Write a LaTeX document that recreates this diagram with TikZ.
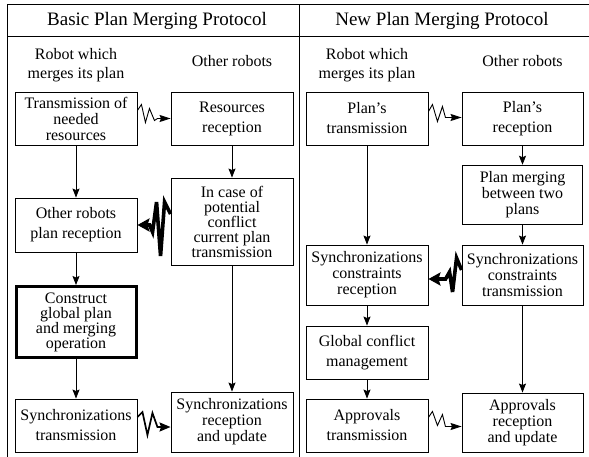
\documentclass[tikz,border=0pt]{standalone}
\usepackage{fontspec}
\setmainfont{Liberation Serif}
\usetikzlibrary{arrows.meta,calc}
\begin{document}
\begin{tikzpicture}[x=1pt,y=-1pt,
  box/.style={draw, line width=0.9pt, minimum width=122pt, inner sep=0pt, align=center},
  ftwo/.style={font=\fontsize{16}{20}\selectfont},
  fthree/.style={font=\fontsize{16}{16}\selectfont},
  fmany/.style={font=\fontsize{16}{15}\selectfont},
  head/.style={inner sep=0pt, align=center, font=\fontsize{16}{19}\selectfont},
  ttl/.style={inner sep=0pt, font=\fontsize{19}{22}\selectfont},
  varr/.style={line width=0.8pt, -{Stealth[length=9pt,width=7pt,inset=1.5pt]}},
  zzthin/.style={line width=0.9pt, line join=miter, -{Stealth[length=11pt,width=7pt,inset=1.5pt]}},
  zzmed/.style={line width=1.7pt, line join=miter, -{Stealth[length=11pt,width=9pt,inset=1.5pt]}},
  zzthick/.style={line width=3.6pt, line join=miter, miter limit=6, -{Stealth[length=12pt,width=13pt,inset=2pt]}},
  frame/.style={line width=1pt}
]
\useasboundingbox (0,0) rectangle (589,457);
% frame
\draw[frame] (7,457) -- (7,5) -- (589,5);
\draw[frame] (7,37) -- (589,37);
\draw[frame] (299,5) -- (299,457);

% titles and headers
\node[ttl, anchor=base] (t1) at (157,26) {Basic Plan Merging Protocol};
\node[ttl, anchor=base] (t2) at (442,26) {New Plan Merging Protocol};
\node[head] (h1) at (76,65.6) {Robot which\\merges its plan};
\node[head, anchor=base] (h2) at (232,67) {Other robots};
\node[head] (h3) at (367,65.6) {Robot which\\merges its plan};
\node[head, anchor=base] (h4) at (522.5,67) {Other robots};

% left protocol
\node[box, fthree, minimum height=53pt] (A) at (76,118.5) {Transmission of\\needed\\resources};
\node[box, ftwo, minimum height=53pt] (B) at (232,118.5) {Resources\\reception};
\node[box, fmany, minimum height=87pt] (C) at (232,221.5) {In case of\\potential\\conflict\\current plan\\transmission};
\node[box, ftwo, minimum height=54pt] (D) at (76,225) {Other robots\\plan reception};
\node[box, fmany, line width=3pt, minimum width=120pt, minimum height=71pt] (E) at (76,322) {Construct\\global plan\\and merging\\operation};
\node[box, ftwo, minimum height=53pt] (F) at (76,425.5) {Synchronizations\\transmission};
\node[box, fthree, minimum height=60pt] (G) at (232,422) {Synchronizations\\reception\\and update};

% right protocol
\node[box, ftwo, minimum height=53pt] (H) at (367,118.5) {Plan’s\\transmission};
\node[box, ftwo, minimum width=121pt, minimum height=53pt] (I) at (522.5,118.5) {Plan’s\\reception};
\node[box, fthree, line width=1.5pt, minimum width=120pt, minimum height=59pt] (J) at (522.5,195) {Plan merging\\between two\\plans};
\node[box, fthree, minimum height=60pt] (K) at (367,275) {Synchronizations\\constraints\\reception};
\node[box, fthree, minimum width=121pt, minimum height=60pt] (L) at (522.5,275) {Synchronizations\\constraints\\transmission};
\node[box, ftwo, minimum height=53pt] (M) at (367,352.5) {Global conflict\\management};
\node[box, ftwo, minimum height=53pt] (N) at (367,425.5) {Approvals\\transmission};
\node[box, fthree, minimum width=121pt, minimum height=59pt] (O) at (522.5,422.5) {Approvals\\reception\\and update};

% vertical arrows
\draw[varr] (A) -- (D);
\draw[varr] (D) -- (E);
\draw[varr] (E) -- (F);
\draw[varr] (B) -- (C);
\draw[varr] (C) -- (G);
\draw[varr] (H) -- (K);
\draw[varr] (I) -- (J);
\draw[varr] (J) -- (L);
\draw[varr] (K) -- (M);
\draw[varr] (M) -- (N);
\draw[varr] (L) -- (O);

% zigzag messages
\draw[zzthin] ($(A.east)+(0,-8)$) -- ++(4,-6) -- ++(4,18) -- ++(4,-14) -- ++(5,12) -- ++(3,-2) coordinate (z1) -- (z1 -| B.west);
\draw[zzthin] ($(H.east)+(0,-7)$) -- ++(4,-7) -- ++(5,17) -- ++(5,-15) -- ++(3,11) -- ++(2,0) coordinate (z2) -- (z2 -| I.west);
\draw[zzmed] ($(F.east)+(0,-8.5)$) -- ++(5,-5) -- ++(5,23) -- ++(5,-22) -- ++(5,14) coordinate (z3) -- (z3 -| G.west);
\draw[zzthin] ($(N.east)+(0,-8)$) -- ++(4,-6) -- ++(5,14) -- ++(5,-11) -- ++(3,12) coordinate (z4) -- (z4 -| O.west);
\draw[zzthick] ($(C.west)+(0,-7.5)$) -- ++(-6,-12) -- ++(-4,54) -- ++(-4,-54) -- ++(-4,30) -- ++(-3,-7) coordinate (z5) -- (z5 -| D.east);
\draw[zzthick] ($(L.west)+(0,-5)$) -- ++(-5,-12) -- ++(-4,34) -- ++(-3,-20) -- ++(-4,7) coordinate (z6) -- (z6 -| K.east);
\end{tikzpicture}
\end{document}
